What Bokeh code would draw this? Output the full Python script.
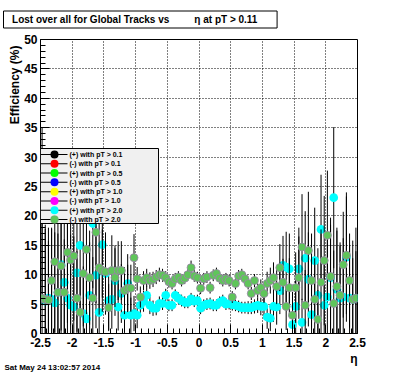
import numpy as np
from bokeh.plotting import figure
from bokeh.models import (Range1d, SingleIntervalTicker, CustomJSTickFormatter,
                          BoxAnnotation, Label, Title)
from bokeh.embed import file_html
from bokeh.resources import INLINE

# ---------------- data ----------------
# eta bin centres (100 bins of 0.05 between -2.5 and 2.5)
eta = np.round(np.arange(-2.475, 2.5, 0.05), 3)

# (+) with pT > 2.0  (cyan)
pos_pt20 = [20.0, 5.5, 6.0, 5.8, 5.2, 7.0, 11.7, 8.7, 6.0, 4.8,
            4.5, 10.3, 15.0, 3.4, 2.5, 6.5, 18.7, 9.9, 3.6, 15.1,
            10.2, 5.6, 5.8, 9.0, 4.5, 6.8, 3.1, 8.5, 3.1, 3.4,
            3.1, 4.8, 5.5, 6.5, 4.8, 4.3, 4.3, 5.1, 5.1, 6.5,
            4.8, 4.8, 6.5, 6.0, 5.6, 5.3, 5.3, 5.9, 5.5, 5.6,
            4.3, 4.8, 5.0, 5.1, 4.8, 4.8, 5.3, 5.6, 5.0, 5.1,
            4.9, 4.8, 4.6, 4.4, 4.4, 4.4, 4.4, 4.6, 4.8, 4.6,
            4.6, 2.8, 2.6, 4.6, 4.5, 7.3, 11.6, 11.3, 11.0, 1.5,
            4.6, 11.0, 1.9, 12.8, 9.2, 3.2, 12.4, 6.5, 17.7, 4.8,
            6.2, 9.5, 23.1, 7.5, 6.0, 6.2, 13.0, 6.0, 5.8, 6.0]
pos_pt20_err = [15, 13, 12, 12, 12, 12, 13, 12, 13, 12,
                12, 10, 11, 8, 8, 9, 11, 9, 7, 9,
                7, 5, 5, 6, 4, 5, 3, 5, 3, 3,
                2.2, 2.0, 1.8, 1.6, 1.5, 1.3, 1.2, 1.2, 1.1, 1.1,
                1.0, 1.0, 1.0, 1.0, 1.0, 1.0, 1.0, 1.0, 1.0, 1.0,
                1.0, 1.0, 1.0, 1.0, 1.0, 1.0, 1.0, 1.0, 1.0, 1.0,
                1.0, 1.0, 1.0, 1.0, 1.0, 1.1, 1.1, 1.2, 1.3, 1.5,
                1.8, 2.0, 2.2, 2.6, 3, 4, 5, 6, 6, 4,
                5, 7, 4, 8, 8, 6, 9, 8, 9.3, 8,
                10, 9, 12, 10, 9, 10, 11, 9, 10, 12]

# (-) with pT > 2.0  (green)
neg_pt20 = [6.0, 5.8, 5.7, 9.0, 12.2, 7.0, 11.5, 7.0, 13.8, 12.5,
            13.2, 6.0, 3.6, 10.2, 14.3, 9.5, 6.0, 17.2, 11.2, 10.7,
            10.5, 4.4, 10.7, 9.5, 10.7, 10.7, 7.3, 7.7, 7.7, 12.9,
            9.3, 6.2, 9.0, 9.5, 9.0, 9.2, 9.6, 10.0, 9.9, 9.5,
            8.8, 8.5, 9.3, 9.6, 9.0, 9.4, 10.0, 11.2, 9.8, 9.5,
            7.7, 9.3, 9.6, 7.8, 9.9, 10.2, 9.4, 9.0, 9.3, 9.0,
            6.2, 8.5, 9.8, 10.0, 9.3, 8.5, 6.8, 9.0, 7.3, 7.8,
            6.8, 8.5, 9.0, 9.5, 8.0, 11.2, 8.7, 4.6, 7.8, 3.1,
            7.8, 9.5, 14.7, 4.8, 14.1, 9.0, 5.8, 2.4, 8.7, 12.4,
            16.7, 9.7, 5.1, 8.0, 6.5, 11.7, 13.3, 9.0, 5.8, 6.0]
neg_pt20_err = [14, 12, 10, 9, 12, 10, 11, 9, 12, 11,
                11, 8, 6, 9, 11, 8, 7, 12, 8, 7,
                6, 4, 6, 5, 5, 5, 4, 4, 4, 4,
                2.0, 1.8, 1.6, 1.5, 1.4, 1.3, 1.2, 1.2, 1.1, 1.1,
                1.0, 1.0, 1.0, 1.0, 1.0, 1.0, 1.0, 1.2, 1.0, 1.0,
                1.0, 1.0, 1.0, 1.0, 1.0, 1.0, 1.0, 1.0, 1.0, 1.0,
                1.0, 1.0, 1.0, 1.0, 1.0, 1.0, 1.1, 1.1, 1.2, 1.4,
                1.6, 2.0, 2.2, 2.6, 3, 4, 4, 4, 5, 4,
                6, 7, 9, 6, 10, 8, 7, 5, 9, 11,
                11, 10, 9, 10, 9, 9, 10, 8, 7, 8]

legend_labels = ["(+) with pT > 0.1", "(-) with pT > 0.1", "(+) with pT > 0.5",
                 "(-) with pT > 0.5", "(+) with pT > 1.0", "(-) with pT > 1.0",
                 "(+) with pT > 2.0", "(-) with pT > 2.0"]
legend_colors = ["#000000", "#ff0000", "#00ff00", "#0000ff",
                 "#ffff00", "#ff00ff", "#00ffff", "#5fc55a"]

title_text = "Lost over all for Global Tracks vs"
title_text2 = "\u03b7 at pT > 0.11"
date_text = "Sat May 24 13:02:57 2014"
ylabel_text = "Efficiency (%)"
xlabel_text = "\u03b7"

FONT = "Liberation Sans"
FRINGE = "#9a86a8"
NB = "\u00a0"

# ---------------- figure ----------------
p = figure(width=396, height=372, x_range=Range1d(-2.5, 2.5), y_range=Range1d(0, 50),
           output_backend="svg", toolbar_location=None,
           min_border_left=40, min_border_right=39, min_border_top=39, min_border_bottom=39)
p.background_fill_color = "white"
p.border_fill_color = "white"
p.outline_line_color = "black"
p.outline_line_width = 1
p.outline_line_alpha = 1

p.xaxis.ticker = SingleIntervalTicker(interval=0.5, num_minor_ticks=5)
p.yaxis.ticker = SingleIntervalTicker(interval=5, num_minor_ticks=5)
fmt = CustomJSTickFormatter(code="return String(Math.round(tick*10)/10)")
for ax in (p.xaxis[0], p.yaxis[0]):
    ax.formatter = fmt
    ax.major_tick_in = 9
    ax.major_tick_out = 0
    ax.minor_tick_in = 5
    ax.minor_tick_out = 0
    ax.major_tick_line_color = "black"
    ax.minor_tick_line_color = "black"
    ax.axis_line_color = "black"
    ax.major_label_text_font = FONT
    ax.major_label_text_font_style = "bold"
    ax.major_label_text_font_size = "12px"
    ax.major_label_text_color = "black"
p.xaxis.major_label_standoff = 4
p.yaxis.major_label_standoff = 3

for g in (p.xgrid[0], p.ygrid[0]):
    g.grid_line_color = "black"
    g.grid_line_dash = "1 2"
    g.grid_line_width = 1

x = np.asarray(eta)


def draw(vals, errs, color, size, line_color=None):
    v = np.asarray(vals, dtype=float)
    e = np.asarray(errs, dtype=float)
    lo = np.clip(v - e, 0, None)
    hi = v + e
    p.segment(x0=x, y0=lo, x1=x, y1=hi, line_color="black", line_width=1)
    if line_color is None:
        p.scatter(x=x, y=v, size=size, fill_color=color, line_color=None)
    else:
        p.scatter(x=x, y=v, size=size, fill_color=color, line_color=line_color,
                  line_width=1, line_alpha=0.85)


draw(pos_pt20, pos_pt20_err, legend_colors[6], 8.7)
draw(neg_pt20, neg_pt20_err, legend_colors[7], 8.0, line_color=FRINGE)

# ---------------- legend (frame-relative screen units) ----------------
def sbox(**kw):
    return BoxAnnotation(left_units="screen", right_units="screen",
                         bottom_units="screen", top_units="screen", **kw)


p.add_layout(sbox(left=0, right=118, bottom=110, top=185,
                  fill_color="#f0f0f0", fill_alpha=1,
                  line_color="black", line_width=1, line_alpha=1))

has_radius = "border_radius" in BoxAnnotation.properties()
row_top, row_pitch = 179.0, 9.29
for i, (lab, col) in enumerate(zip(legend_labels, legend_colors)):
    sy = row_top - i * row_pitch
    p.add_layout(sbox(left=0, right=27, bottom=sy - 0.5, top=sy + 0.5,
                      fill_color="black", fill_alpha=1, line_color=None))
    if has_radius:
        p.add_layout(sbox(left=10, right=18, bottom=sy - 4, top=sy + 4, border_radius=4,
                          fill_color=col, fill_alpha=1,
                          line_color=FRINGE if col == "#5fc55a" else None,
                          line_width=1))
    else:
        p.add_layout(Label(x=14, y=sy, x_units="screen", y_units="screen", text="\u25cf",
                           text_align="center", text_baseline="middle",
                           text_font="DejaVu Sans", text_font_size="13px", text_color=col))
    p.add_layout(Label(x=29, y=sy, x_units="screen", y_units="screen", text=lab,
                       text_align="left", text_baseline="middle",
                       text_font=FONT, text_font_style="bold", text_font_size="7px",
                       text_color="black"))

# ---------------- texts outside the frame (titles in side panels) ----------------
tprops = Title.properties()
t = p.title
t.text = NB * 2 + title_text + NB * 9 + title_text2 + NB * 6
t.align = "left"
t.offset = -37
t.standoff = 19
t.vertical_align = "top"
t.text_font = FONT
t.text_font_style = "bold"
t.text_font_size = "10px"
t.text_color = "black"
t.background_fill_color = "white"
t.border_line_color = "black"
t.border_line_width = 1
if "padding" in tprops:
    t.padding = 3

ytitle = Title(text=ylabel_text, align="right", offset=6, standoff=0,
               text_font=FONT, text_font_style="bold", text_font_size="12px",
               text_color="black")
p.add_layout(ytitle, "left")

xtitle = Title(text=xlabel_text, align="right", offset=0, standoff=0,
               text_font=FONT, text_font_style="bold", text_font_size="12px",
               text_color="black")
p.add_layout(xtitle, "below")

dtitle = Title(text=date_text, align="left", offset=-36, standoff=-10,
               text_font=FONT, text_font_style="bold", text_font_size="8px",
               text_color="black")
p.add_layout(dtitle, "below")

open("out.html", "w").write(file_html(p, INLINE))
